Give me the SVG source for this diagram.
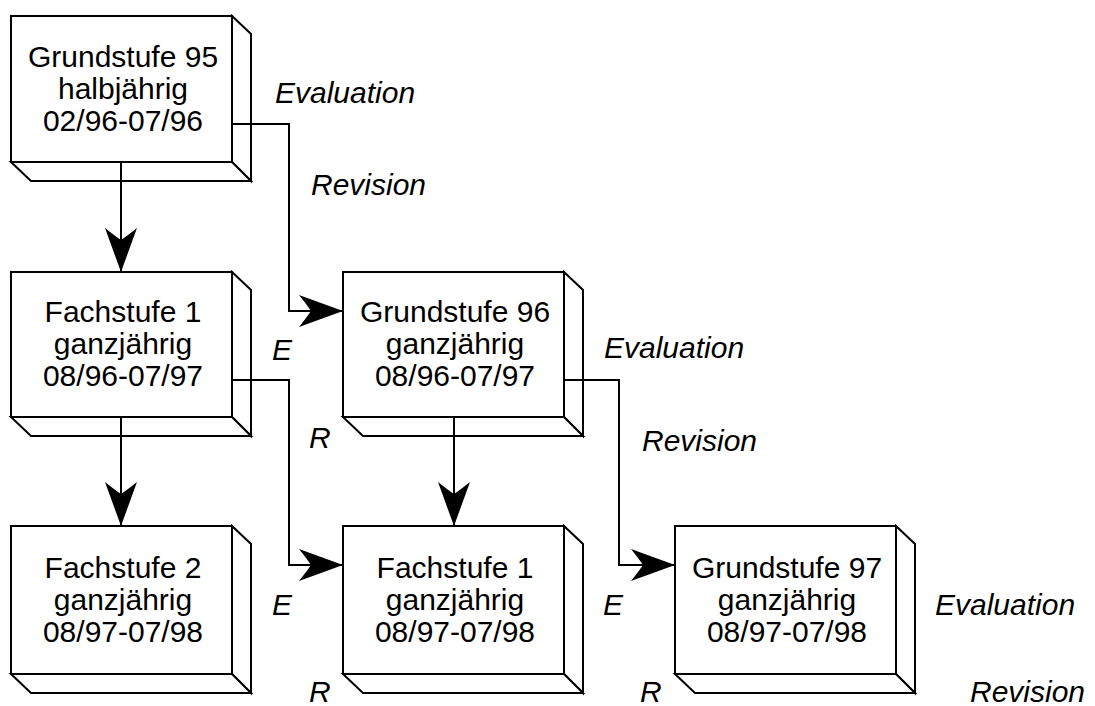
<svg xmlns="http://www.w3.org/2000/svg" width="1095" height="706" viewBox="0 0 1095 706">
<defs>
<style>
.face{fill:#fff;stroke:#000;stroke-width:2;stroke-linejoin:miter}
.t{font-family:"Liberation Sans",Arial,sans-serif;font-size:30px;text-anchor:middle;fill:#000}
.lbl{font-family:"Liberation Sans",Arial,sans-serif;font-size:30px;font-style:italic;fill:#000}
.conn{fill:none;stroke:#000;stroke-width:2}
</style>
<marker id="ah" markerUnits="userSpaceOnUse" viewBox="-46 -18 48 36" refX="0" refY="0" markerWidth="48" markerHeight="36" orient="auto">
<path d="M0,0 L-44,-16 Q-36,-6 -32,0 Q-36,6 -44,16 Z" fill="#000"/>
</marker>
</defs>
<rect width="1095" height="706" fill="#fff"/>

<g id="node-grundstufe95">
<rect class="face" x="11" y="16" width="221" height="146"/>
<path class="face" d="M232,16 L251,34 L251,181 L232,162 Z"/>
<path class="face" d="M11,162 L31,181 L251,181 L232,162 Z"/>
<text class="t" x="123" y="67">Grundstufe 95</text>
<text class="t" x="123" y="99">halbjährig</text>
<text class="t" x="123" y="131">02/96-07/96</text>
</g>

<g id="node-fachstufe1-96">
<rect class="face" x="11" y="272" width="221" height="145"/>
<path class="face" d="M232,272 L251,290 L251,436 L232,417 Z"/>
<path class="face" d="M11,417 L31,436 L251,436 L232,417 Z"/>
<text class="t" x="123" y="322">Fachstufe 1</text>
<text class="t" x="123" y="354">ganzjährig</text>
<text class="t" x="123" y="386">08/96-07/97</text>
</g>

<g id="node-grundstufe96">
<rect class="face" x="343" y="272" width="221" height="145"/>
<path class="face" d="M564,272 L583,290 L583,436 L564,417 Z"/>
<path class="face" d="M343,417 L363,436 L583,436 L564,417 Z"/>
<text class="t" x="455" y="322">Grundstufe 96</text>
<text class="t" x="455" y="354">ganzjährig</text>
<text class="t" x="455" y="386">08/96-07/97</text>
</g>

<g id="node-fachstufe2">
<rect class="face" x="11" y="526" width="221" height="148"/>
<path class="face" d="M232,526 L251,544 L251,693 L232,674 Z"/>
<path class="face" d="M11,674 L31,693 L251,693 L232,674 Z"/>
<text class="t" x="123" y="578">Fachstufe 2</text>
<text class="t" x="123" y="610">ganzjährig</text>
<text class="t" x="123" y="642">08/97-07/98</text>
</g>

<g id="node-fachstufe1-97">
<rect class="face" x="343" y="526" width="221" height="148"/>
<path class="face" d="M564,526 L583,544 L583,693 L564,674 Z"/>
<path class="face" d="M343,674 L363,693 L583,693 L564,674 Z"/>
<text class="t" x="455" y="578">Fachstufe 1</text>
<text class="t" x="455" y="610">ganzjährig</text>
<text class="t" x="455" y="642">08/97-07/98</text>
</g>

<g id="node-grundstufe97">
<rect class="face" x="675" y="526" width="221" height="148"/>
<path class="face" d="M896,526 L915,544 L915,693 L896,674 Z"/>
<path class="face" d="M675,674 L695,693 L915,693 L896,674 Z"/>
<text class="t" x="787" y="578">Grundstufe 97</text>
<text class="t" x="787" y="610">ganzjährig</text>
<text class="t" x="787" y="642">08/97-07/98</text>
</g>

<g id="connectors">
<path class="conn" d="M121,162 L121,272" marker-end="url(#ah)"/>
<path class="conn" d="M121,417 L121,526" marker-end="url(#ah)"/>
<path class="conn" d="M454,417 L454,526" marker-end="url(#ah)"/>
<path class="conn" d="M232,124 L289,124 L289,311 L343,311" marker-end="url(#ah)"/>
<path class="conn" d="M232,380 L289,380 L289,565 L343,565" marker-end="url(#ah)"/>
<path class="conn" d="M564,380 L619,380 L619,565 L675,565" marker-end="url(#ah)"/>
</g>

<g id="labels">
<text class="lbl" x="275" y="103">Evaluation</text>
<text class="lbl" x="311" y="195">Revision</text>
<text class="lbl" x="272" y="360">E</text>
<text class="lbl" x="309" y="448">R</text>
<text class="lbl" x="604" y="358">Evaluation</text>
<text class="lbl" x="642" y="451">Revision</text>
<text class="lbl" x="272" y="615">E</text>
<text class="lbl" x="309" y="702">R</text>
<text class="lbl" x="603" y="615">E</text>
<text class="lbl" x="640" y="702">R</text>
<text class="lbl" x="935" y="615">Evaluation</text>
<text class="lbl" x="970" y="702">Revision</text>
</g>
</svg>
